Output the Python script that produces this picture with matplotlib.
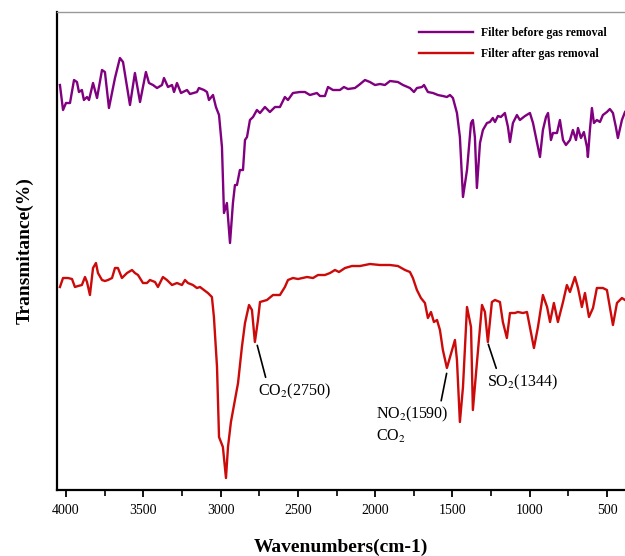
import matplotlib.pyplot as plt
from matplotlib.ticker import MultipleLocator

plt.rcParams['font.family'] = ['Liberation Serif', 'DejaVu Serif']
plt.rcParams['mathtext.fontset'] = 'stix'

# spectrum before gas removal (wavenumber cm-1, transmittance a.u.)
wn_before = [4039, 4019, 4000, 3974, 3948, 3929, 3916, 3897, 3884, 3864, 3851, 3825, 3799,
             3767, 3748, 3722, 3683, 3651, 3631, 3586, 3554, 3521, 3483, 3463, 3437, 3411,
             3379, 3366, 3340, 3314, 3301, 3282, 3256, 3217, 3198, 3153, 3140, 3107, 3088,
             3075, 3049, 3030, 3010, 2991, 2978, 2959, 2939, 2920, 2907, 2894, 2875, 2855,
             2842, 2829, 2810, 2790, 2765, 2745, 2713, 2681, 2648, 2616, 2584, 2564, 2532,
             2487, 2454, 2422, 2377, 2357, 2325, 2305, 2273, 2228, 2202, 2176, 2131, 2105,
             2066, 2034, 2001, 1969, 1937, 1904, 1853, 1820, 1775, 1749, 1730, 1697, 1684,
             1659, 1626, 1594, 1562, 1536, 1516, 1497, 1471, 1452, 1432, 1406, 1380, 1368,
             1355, 1342, 1322, 1303, 1277, 1258, 1239, 1225, 1206, 1187, 1161, 1141, 1128,
             1109, 1083, 1064, 1031, 999, 979, 954, 934, 915, 895, 882, 863, 850, 824, 805,
             785, 766, 740, 721, 701, 688, 669, 650, 630, 624, 611, 598, 585, 566, 546, 527,
             501, 482, 462, 443, 430, 404, 384]
t_before = [81.0, 76.0, 77.4, 77.4, 82.0, 81.6, 79.6, 80.0, 78.0, 78.6, 78.0, 81.4, 78.4,
            84.0, 83.6, 76.4, 82.4, 86.4, 85.6, 77.0, 83.4, 77.6, 83.6, 81.4, 81.0, 80.4,
            81.0, 82.4, 80.6, 81.0, 79.6, 81.4, 79.4, 80.0, 79.2, 79.6, 80.4, 80.0, 79.6,
            78.0, 79.0, 76.6, 75.0, 68.6, 55.4, 57.4, 49.4, 57.4, 61.0, 61.0, 64.0, 64.0,
            70.0, 70.6, 74.0, 74.6, 76.0, 75.4, 76.6, 75.6, 76.6, 76.6, 78.6, 78.0, 79.4,
            79.6, 79.6, 79.0, 79.4, 78.8, 78.8, 80.6, 80.0, 80.0, 80.6, 80.2, 80.4, 81.0,
            82.0, 81.6, 81.0, 81.2, 81.0, 81.8, 81.6, 81.0, 80.4, 79.6, 80.4, 80.6, 81.0,
            79.6, 79.4, 79.0, 78.8, 78.6, 79.0, 78.4, 75.4, 70.6, 58.6, 64.0, 73.4, 74.0,
            70.6, 60.4, 69.4, 72.0, 73.4, 73.6, 74.4, 73.6, 74.8, 74.6, 75.4, 72.6, 69.6,
            73.4, 75.0, 74.0, 74.8, 75.4, 73.4, 69.6, 66.6, 72.0, 74.6, 75.4, 70.0, 71.4,
            71.4, 74.0, 70.0, 69.0, 70.0, 72.0, 70.0, 72.4, 70.4, 71.6, 68.6, 66.6, 72.0,
            76.4, 73.4, 74.0, 73.6, 75.0, 75.6, 76.2, 75.4, 72.6, 70.4, 74.0, 75.6]

# spectrum after gas removal
wn_after = [4039, 4019, 3987, 3961, 3942, 3922, 3897, 3877, 3864, 3845, 3825, 3806, 3793,
            3767, 3748, 3728, 3702, 3683, 3664, 3638, 3605, 3573, 3554, 3534, 3502, 3476,
            3457, 3424, 3405, 3373, 3347, 3314, 3282, 3250, 3230, 3211, 3179, 3153, 3133,
            3107, 3082, 3056, 3043, 3023, 3010, 2985, 2965, 2952, 2933, 2907, 2887, 2862,
            2842, 2816, 2797, 2778, 2758, 2745, 2700, 2661, 2616, 2584, 2564, 2532, 2499,
            2441, 2402, 2370, 2325, 2292, 2260, 2234, 2195, 2150, 2098, 2034, 1969, 1904,
            1853, 1807, 1775, 1756, 1730, 1704, 1678, 1659, 1639, 1620, 1600, 1581, 1562,
            1536, 1503, 1484, 1471, 1452, 1432, 1406, 1380, 1368, 1342, 1309, 1290, 1271,
            1245, 1225, 1193, 1174, 1148, 1128, 1096, 1077, 1044, 1018, 999, 973, 947, 915,
            888, 869, 844, 818, 785, 760, 740, 708, 688, 663, 643, 617, 591, 566, 527, 501,
            482, 462, 436, 404, 384]
t_after = [40.6, 42.4, 42.4, 42.2, 40.6, 40.8, 41.0, 42.6, 41.6, 39.0, 44.4, 45.4, 43.4,
           42.0, 41.8, 42.0, 42.4, 44.4, 44.4, 42.4, 43.4, 44.0, 43.4, 43.0, 41.4, 41.4,
           42.0, 41.6, 40.6, 42.6, 42.0, 41.0, 41.4, 41.0, 42.0, 41.4, 41.0, 40.4, 40.6,
           40.0, 39.4, 38.6, 34.6, 24.6, 10.6, 8.6, 2.4, 8.6, 13.6, 18.0, 21.4, 28.6,
           33.4, 37.0, 36.0, 29.6, 34.0, 37.6, 38.0, 39.0, 39.0, 40.6, 42.0, 42.4, 42.2,
           42.6, 42.4, 43.0, 43.0, 43.4, 44.0, 43.6, 44.4, 44.8, 44.8, 45.2, 45.0, 45.0,
           44.8, 44.0, 43.6, 42.4, 40.0, 38.4, 37.4, 34.4, 35.6, 33.6, 34.0, 32.0, 28.0,
           24.4, 28.0, 30.0, 26.0, 13.6, 20.6, 36.6, 32.6, 16.0, 25.4, 37.0, 35.6, 29.6,
           37.6, 38.0, 37.6, 33.6, 30.4, 35.4, 35.4, 35.6, 35.4, 35.6, 32.6, 28.4, 32.6, 39.0,
           36.6, 33.6, 37.4, 33.6, 37.6, 41.0, 39.6, 42.6, 40.4, 36.6, 39.4, 34.6, 36.4, 40.4, 40.4, 40.0,
           36.6, 33.0, 37.4, 38.4, 38.0]

xticks = [4000, 3500, 3000, 2500, 2000, 1500, 1000, 500]

fig = plt.figure(figsize=(6.25, 5.56), dpi=100)
ax = fig.add_axes([0.0912, 0.1187, 0.9088, 0.8597])

ax.plot(wn_before, t_before, color='#800080', lw=1.7, label='Filter before gas removal')
ax.plot(wn_after, t_after, color='#CC0A0A', lw=1.7, label='Filter after gas removal')

ax.set_xlim(4058, 384)
ax.set_ylim(0, 95.6)
ax.set_xticks(xticks)
ax.xaxis.set_minor_locator(MultipleLocator(250))
ax.set_yticks([])
ax.tick_params(axis='x', which='major', direction='out', length=5, width=1.3, labelsize=10, pad=5)
ax.tick_params(axis='x', which='minor', direction='out', length=4, width=1.2)

for s in ['left', 'bottom']:
    ax.spines[s].set_linewidth(1.6)
ax.spines['right'].set_visible(False)
ax.spines['top'].set_color('#999999')
ax.spines['top'].set_linewidth(1.0)

ax.set_xlabel('Wavenumbers(cm-1)', fontsize=14, fontweight='bold', labelpad=16)
ax.set_ylabel('Transmitance(%)', fontsize=14, fontweight='bold', labelpad=17)

ax.legend(loc='upper right', bbox_to_anchor=(0.987, 0.99), frameon=False,
          prop={'weight': 'bold', 'size': 8.5}, handlelength=4.6, handletextpad=0.7,
          labelspacing=0.75)

arrow = dict(arrowstyle='-', color='black', lw=1.2, shrinkA=1, shrinkB=1)
ax.annotate('CO$_2$(2750)', xy=(2765, 29.2), xytext=(2758, 19.8), fontsize=11.5,
            ha='left', va='center', arrowprops=dict(arrow, relpos=(0.12, 1.0)))
ax.annotate('SO$_2$(1344)', xy=(1271, 29.4), xytext=(1277, 21.6), fontsize=11.5,
            ha='left', va='center', arrowprops=dict(arrow, relpos=(0.15, 1.0)))
ax.annotate('NO$_2$(1590)\nCO$_2$', xy=(1536, 23.6), xytext=(1995, 13.0), fontsize=11.5,
            ha='left', va='center', linespacing=1.3,
            arrowprops=dict(arrow, relpos=(0.89, 1.0)))

fig.savefig('out.png', dpi=100)
